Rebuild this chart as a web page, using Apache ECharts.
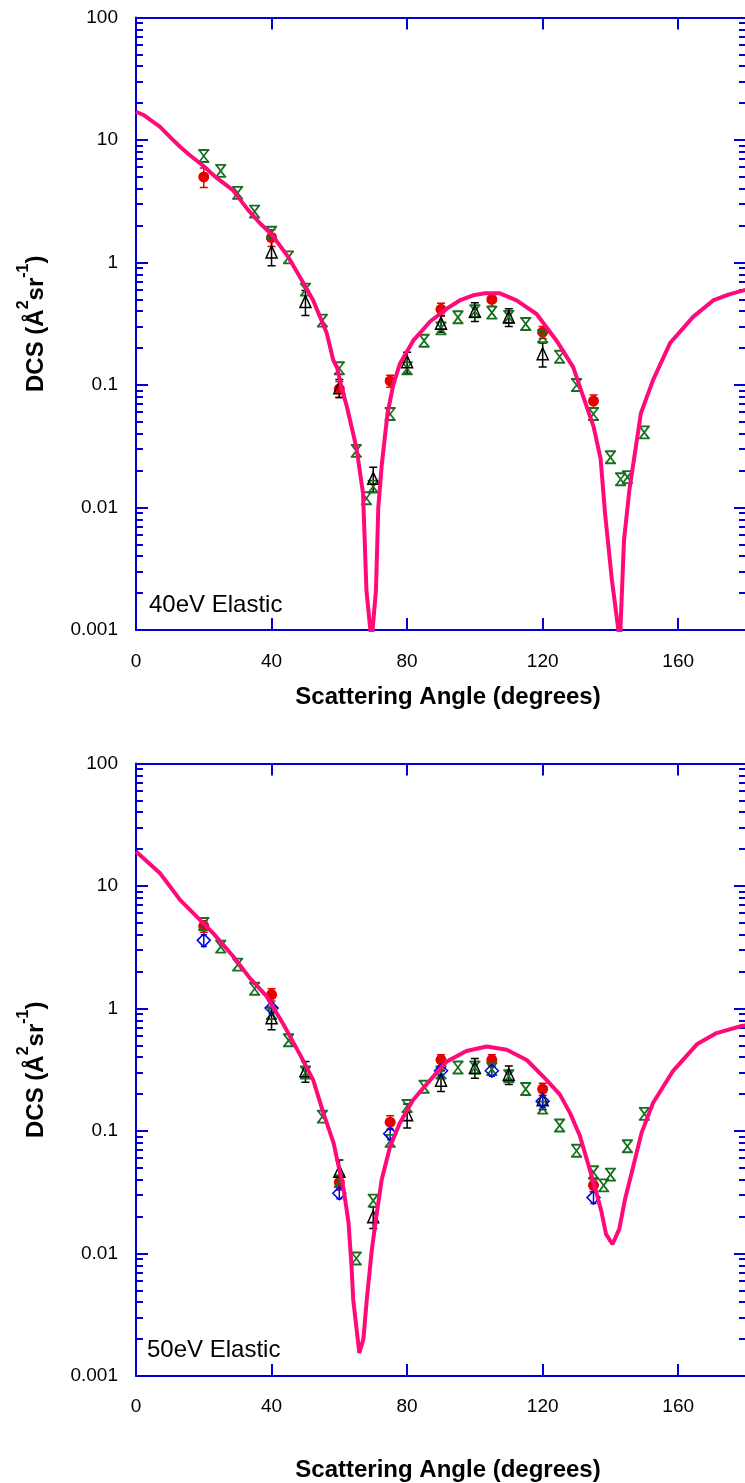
<!DOCTYPE html>
<html>
<head>
<meta charset="utf-8">
<script src="https://cdn.jsdelivr.net/npm/echarts@6/dist/echarts.min.js"></script>
<style>
  html, body { margin: 0; padding: 0; background: #fff; }
  #chart { width: 745px; height: 1483px; }
</style>
</head>
<body>
<div id="chart"></div>
<script>
// ---- 40 eV elastic: theory curve ----
const theoryAngle40 = [0, 2.2, 7.1, 10, 13, 15.9, 20, 23.8, 28.6, 33, 36.5, 40, 45, 48.5, 52.3, 56.3, 58.2, 59.4, 60.7, 62.2, 64, 65.1, 67, 68, 69.5, 70.8, 71.5, 72.5, 74.2, 75.9, 77.9, 81.8, 86.8, 91.7, 95.5, 99.5, 103, 107.4, 112.3, 118.2, 124.1, 129, 132, 135, 137.1, 138.4, 140.4, 142.8, 144, 145.6, 149, 152.6, 157.6, 164.4, 170.3, 175, 180];
const theoryDcs40 = [17.0, 16.0, 12.8, 10.6, 8.8, 7.5, 6.1, 4.9, 3.9, 2.7, 2.1, 1.7, 1.1, 0.75, 0.49, 0.264, 0.16, 0.137, 0.094, 0.067, 0.041, 0.030, 0.013, 0.0021, 0.0008, 0.0021, 0.010, 0.022, 0.058, 0.10, 0.15, 0.23, 0.33, 0.42, 0.49, 0.54, 0.56, 0.56, 0.49, 0.38, 0.23, 0.14, 0.080, 0.046, 0.025, 0.009, 0.0026, 0.0008, 0.0054, 0.014, 0.059, 0.11, 0.22, 0.36, 0.49, 0.55, 0.60];

// ---- 40 eV elastic: measurements ----
const redAngle40 = [20, 40, 60, 75, 90, 105, 120, 135];
const redDcs40 = [5.0, 1.6, 0.093, 0.108, 0.415, 0.50, 0.27, 0.074];
const redErr40 = [0.9, 0.25, 0.014, 0.012, 0.05, 0.06, 0.03, 0.009];

const blackAngle40 = [40, 50, 60, 70, 80, 90, 100, 110, 120];
const blackDcs40 = [1.22, 0.48, 0.095, 0.0173, 0.155, 0.32, 0.40, 0.36, 0.18];
const blackErr40 = [0.28, 0.11, 0.016, 0.004, 0.03, 0.05, 0.07, 0.06, 0.04];

const greenAngle40 = [20, 25, 30, 35, 40, 45, 50, 55, 60, 65, 68, 70, 75, 80, 85, 90, 95, 100, 105, 110, 115, 120, 125, 130, 135, 140, 143, 145, 150];
const greenDcs40 = [7.4, 5.6, 3.7, 2.6, 1.75, 1.1, 0.6, 0.335, 0.137, 0.029, 0.0119, 0.0148, 0.058, 0.137, 0.23, 0.29, 0.357, 0.40, 0.39, 0.36, 0.315, 0.25, 0.17, 0.10, 0.058, 0.0257, 0.017, 0.0177, 0.041];

// ---- 50 eV elastic: theory curve ----
const theoryAngle50 = [0, 7.1, 13, 16.9, 22.8, 28.7, 33.6, 38.5, 43.4, 48.4, 52.3, 55.3, 58.3, 61.3, 62.7, 63.6, 64.1, 65.9, 67.1, 68.1, 69.6, 70.9, 72.5, 75, 77.9, 81.8, 86.8, 91.7, 97.5, 103.5, 109.4, 115.3, 121.2, 125.1, 128.1, 131, 133, 135.9, 137.4, 138.7, 140.6, 142.6, 144.3, 146.3, 149.2, 152.6, 158.5, 165.5, 171.3, 178.7, 180];
const theoryDcs50 = [19.1, 12.7, 7.7, 6.0, 4.1, 2.66, 1.77, 1.26, 0.75, 0.42, 0.26, 0.14, 0.08, 0.033, 0.018, 0.0079, 0.0042, 0.00154, 0.002, 0.0042, 0.0108, 0.020, 0.040, 0.075, 0.117, 0.18, 0.26, 0.37, 0.45, 0.49, 0.46, 0.38, 0.26, 0.198, 0.14, 0.091, 0.059, 0.031, 0.0216, 0.0144, 0.0119, 0.0158, 0.0277, 0.046, 0.097, 0.17, 0.31, 0.51, 0.63, 0.72, 0.73];

// ---- 50 eV elastic: measurements ----
const redAngle50 = [20, 40, 60, 75, 90, 105, 120, 135];
const redDcs50 = [4.7, 1.30, 0.038, 0.118, 0.38, 0.38, 0.22, 0.036];
const redErr50 = [0.5, 0.15, 0.005, 0.015, 0.04, 0.04, 0.025, 0.004];

const blackAngle50 = [40, 50, 60, 70, 80, 90, 100, 110, 120];
const blackDcs50 = [0.84, 0.31, 0.047, 0.020, 0.136, 0.26, 0.33, 0.29, 0.18];
const blackErr50 = [0.17, 0.06, 0.011, 0.004, 0.03, 0.05, 0.06, 0.05, 0.03];

const blueAngle50 = [20, 40, 60, 75, 90, 105, 120, 135];
const blueDcs50 = [3.6, 1.01, 0.031, 0.095, 0.31, 0.31, 0.175, 0.0286];
const blueErr50 = [0.4, 0.1, 0.003, 0.01, 0.03, 0.03, 0.02, 0.003];

const greenAngle50 = [20, 25, 30, 35, 40, 45, 50, 55, 60, 65, 70, 75, 80, 85, 90, 95, 100, 105, 110, 115, 120, 125, 130, 135, 138, 140, 145, 150];
const greenDcs50 = [4.9, 3.2, 2.28, 1.45, 0.92, 0.55, 0.30, 0.131, 0.039, 0.0091, 0.027, 0.083, 0.16, 0.23, 0.30, 0.33, 0.33, 0.32, 0.28, 0.22, 0.155, 0.111, 0.069, 0.046, 0.036, 0.044, 0.075, 0.138];

// ---- axis ticks and labels ----
const yTickValues = [0.001, 0.01, 0.1, 1, 10, 100];
const yTickLabels = ['0.001', '0.01', '0.1', '1', '10', '100'];
const xTickValues = [0, 40, 80, 120, 160];
const panelLabels = ['40eV Elastic', '50eV Elastic'];

const FONT = 'Liberation Sans, Arial, sans-serif';
const AXIS_BLUE = '#0000d8';
const PINK = '#ff0a78';
const RED = '#e60000';
const GREEN = '#17701f';
const BLUE = '#0000e6';

const pairs = (xs, ys) => xs.map((x, i) => [x, ys[i]]);
const bars = (xs, ys, es) => xs.map((x, i) => [x, ys[i] - es[i], ys[i] + es[i]]);

function yLabel(v) {
  const i = yTickValues.findIndex(t => Math.abs(Math.log10(t) - Math.log10(v)) < 1e-6);
  return i >= 0 ? yTickLabels[i] : '';
}
function xLabel(v) {
  return xTickValues.indexOf(v) >= 0 ? String(v) : '';
}

// panel geometry
const panels = [
  { top: 17.5, xNameGap: 55, xLabelMargin: 22 },
  { top: 763.5, xNameGap: 82, xLabelMargin: 21 }
];
const GRID_LEFT = 136, GRID_W = 610, GRID_H = 612.5;

const grids = panels.map(p => ({
  left: GRID_LEFT, top: p.top, width: GRID_W, height: GRID_H,
  containLabel: false, outerBoundsMode: 'none'
}));

const lineStyleAxis = { color: AXIS_BLUE, width: 2 };

const xAxes = [];
const yAxes = [];
panels.forEach((p, g) => {
  xAxes.push({
    type: 'value', gridIndex: g, min: 0, max: 180, interval: 40, position: 'bottom',
    axisLine: { show: true, onZero: false, lineStyle: lineStyleAxis },
    axisTick: { show: true, inside: true, length: 12, lineStyle: lineStyleAxis },
    axisLabel: { show: true, margin: p.xLabelMargin, fontSize: 19, color: '#000', fontFamily: FONT, formatter: xLabel, showMaxLabel: false },
    splitLine: { show: false },
    name: 'Scattering Angle (degrees)', nameLocation: 'middle', nameGap: p.xNameGap,
    nameMoveOverlap: false,
    nameTextStyle: { fontSize: 24, fontWeight: 'bold', color: '#000', fontFamily: FONT, padding: [0, 0, 0, 14] }
  });
  xAxes.push({
    type: 'value', gridIndex: g, min: 0, max: 180, interval: 40, position: 'top',
    axisLine: { show: true, onZero: false, lineStyle: lineStyleAxis },
    axisTick: { show: true, inside: true, length: 12, lineStyle: lineStyleAxis },
    axisLabel: { show: false }, splitLine: { show: false }
  });
  const yBase = {
    type: 'log', logBase: 10, gridIndex: g, min: 0.001, max: 100,
    axisLine: { show: true, onZero: false, lineStyle: lineStyleAxis },
    axisTick: { show: true, inside: true, length: 12, lineStyle: lineStyleAxis },
    minorTick: { show: true, splitNumber: 9, length: 7, lineStyle: lineStyleAxis },
    splitLine: { show: false }, minorSplitLine: { show: false }
  };
  yAxes.push(Object.assign({}, yBase, {
    position: 'left',
    axisLabel: { show: true, margin: 18, fontSize: 19, color: '#000', fontFamily: FONT, formatter: yLabel, showMinLabel: true, showMaxLabel: true },
    name: '{t|DCS (Å}{s|2}{t|sr}{s|-1}{t|)}',
    nameLocation: 'middle', nameRotate: 90, nameGap: 88, nameMoveOverlap: false,
    nameTextStyle: {
      rich: {
        t: { fontSize: 24, fontWeight: 'bold', color: '#000', fontFamily: FONT, lineHeight: 32, verticalAlign: 'bottom' },
        s: { fontSize: 16, fontWeight: 'bold', color: '#000', fontFamily: FONT, lineHeight: 32, verticalAlign: 'top' }
      }
    }
  }));
  yAxes.push(Object.assign({}, yBase, {
    position: 'right', axisLabel: { show: false }
  }));
});

function errorBarSeries(g, data, color, capHalf) {
  return {
    type: 'custom', xAxisIndex: 2 * g, yAxisIndex: 2 * g,
    data: data, encode: { x: 0, y: [1, 2] }, clip: true,
    renderItem: function (params, api) {
      const x = api.value(0);
      const lo = api.coord([x, api.value(1)]);
      const hi = api.coord([x, api.value(2)]);
      const st = { stroke: color, lineWidth: 1.5 };
      return {
        type: 'group',
        children: [
          { type: 'line', shape: { x1: lo[0], y1: lo[1], x2: hi[0], y2: hi[1] }, style: st },
          { type: 'line', shape: { x1: lo[0] - capHalf, y1: lo[1], x2: lo[0] + capHalf, y2: lo[1] }, style: st },
          { type: 'line', shape: { x1: hi[0] - capHalf, y1: hi[1], x2: hi[0] + capHalf, y2: hi[1] }, style: st }
        ]
      };
    }
  };
}

const HOURGLASS = 'path://M0,0L12,0M1,0L11,12M11,0L1,12M0,12L12,12';

function theorySeries(g, xs, ys) {
  return {
    type: 'line', xAxisIndex: 2 * g, yAxisIndex: 2 * g, data: pairs(xs, ys),
    symbol: 'none', smooth: false, clip: true,
    lineStyle: { color: PINK, width: 4 }
  };
}
function redSeries(g, xs, ys) {
  return {
    type: 'scatter', xAxisIndex: 2 * g, yAxisIndex: 2 * g, data: pairs(xs, ys),
    symbol: 'circle', symbolSize: 11, itemStyle: { color: RED, opacity: 1 }
  };
}
function greenSeries(g, xs, ys) {
  return {
    type: 'scatter', xAxisIndex: 2 * g, yAxisIndex: 2 * g, data: pairs(xs, ys),
    symbol: HOURGLASS, symbolSize: [11, 12],
    itemStyle: { color: 'rgba(0,0,0,0)', borderColor: GREEN, borderWidth: 1.8, opacity: 1 }
  };
}
function blackSeries(g, xs, ys) {
  return {
    type: 'scatter', xAxisIndex: 2 * g, yAxisIndex: 2 * g, data: pairs(xs, ys),
    symbol: 'triangle', symbolSize: [11, 12],
    itemStyle: { color: 'rgba(255,255,255,0)', borderColor: '#000', borderWidth: 1.5, opacity: 1 }
  };
}
function blueSeries(g, xs, ys) {
  return {
    type: 'scatter', xAxisIndex: 2 * g, yAxisIndex: 2 * g, data: pairs(xs, ys),
    symbol: 'diamond', symbolSize: [13, 13],
    itemStyle: { color: 'rgba(255,255,255,0)', borderColor: BLUE, borderWidth: 1.5, opacity: 1 }
  };
}

const series = [
  // 40 eV
  theorySeries(0, theoryAngle40, theoryDcs40),
  errorBarSeries(0, bars(redAngle40, redDcs40, redErr40), RED, 4),
  redSeries(0, redAngle40, redDcs40),
  greenSeries(0, greenAngle40, greenDcs40),
  errorBarSeries(0, bars(blackAngle40, blackDcs40, blackErr40), '#000', 4),
  blackSeries(0, blackAngle40, blackDcs40),
  // 50 eV
  theorySeries(1, theoryAngle50, theoryDcs50),
  errorBarSeries(1, bars(redAngle50, redDcs50, redErr50), RED, 4),
  redSeries(1, redAngle50, redDcs50),
  greenSeries(1, greenAngle50, greenDcs50),
  errorBarSeries(1, bars(blackAngle50, blackDcs50, blackErr50), '#000', 4),
  blackSeries(1, blackAngle50, blackDcs50),
  errorBarSeries(1, bars(blueAngle50, blueDcs50, blueErr50), BLUE, 3),
  blueSeries(1, blueAngle50, blueDcs50)
];

const chart = echarts.init(document.getElementById('chart'), null, { renderer: 'canvas' });
chart.setOption({
  backgroundColor: '#fff',
  animation: false,
  grid: grids,
  xAxis: xAxes,
  yAxis: yAxes,
  series: series,
  graphic: [
    { type: 'text', left: 149, top: 593, style: { text: panelLabels[0], font: '24px ' + FONT, fill: '#000' } },
    { type: 'text', left: 147, top: 1338, style: { text: panelLabels[1], font: '24px ' + FONT, fill: '#000' } }
  ]
});
</script>
</body>
</html>
